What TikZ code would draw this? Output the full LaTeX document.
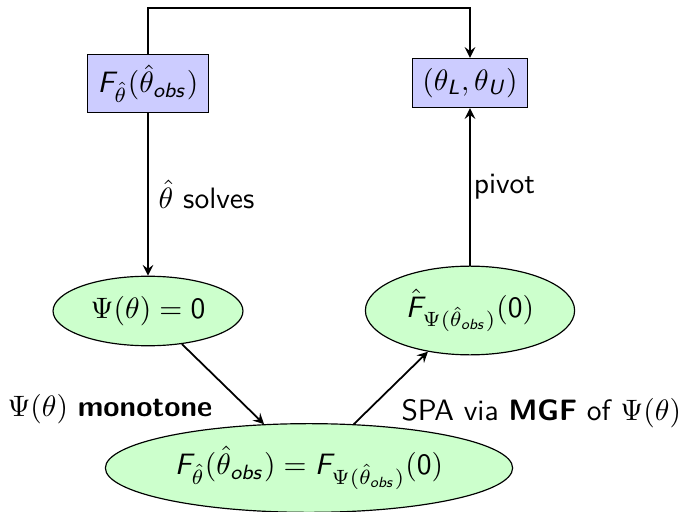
\documentclass[tikz,border=0pt]{standalone}
\usetikzlibrary{shapes.geometric,arrows}
\DeclareSymbolFont{sfletters}{OT1}{cmss}{m}{sl}
\DeclareSymbolFont{sfops}{OT1}{cmss}{m}{n}
\DeclareMathSymbol{F}{\mathalpha}{sfletters}{`F}
\DeclareMathSymbol{L}{\mathalpha}{sfletters}{`L}
\DeclareMathSymbol{U}{\mathalpha}{sfletters}{`U}
\DeclareMathSymbol{o}{\mathalpha}{sfletters}{`o}
\DeclareMathSymbol{b}{\mathalpha}{sfletters}{`b}
\DeclareMathSymbol{s}{\mathalpha}{sfletters}{`s}
\DeclareMathSymbol{0}{\mathalpha}{sfops}{`0}
\begin{document}
\begin{tikzpicture}[x=0.339pt,y=-0.339pt,>=stealth,
  every node/.style={font=\sffamily},
  boxnode/.style={draw, thin, fill=blue!20, rectangle},
  ellnode/.style={draw, thin, fill=green!20, ellipse},
  conn/.style={->, semithick}]
\useasboundingbox (0,0) rectangle (680,512);
\node[boxnode] (lb) at (148,83.5) {$F_{\hat\theta}(\hat\theta_{obs})$};
\node[boxnode] (rb) at (470,83) {$(\theta_L,\theta_U)$};
\node[ellnode] (le) at (148,311) {$\Psi(\theta)=0$};
\node[ellnode] (re) at (470,310.5) {$\hat F_{\Psi(\hat\theta_{obs})}(0)$};
\node[ellnode] (be) at (309,468) {$F_{\hat\theta}(\hat\theta_{obs}) = F_{\Psi(\hat\theta_{obs})}(0)$};
\coordinate (tl) at (148,8);
\coordinate (tr) at (470,8);
\draw[conn] (lb) -- (tl) -- (tr) -- (rb);
\draw[conn] (lb) -- node[right] {$\hat\theta$ solves} (le);
\draw[conn] (re) -- node[right, inner sep=1pt] {pivot} (rb);
\draw[conn] (le) -- node[below left] {$\Psi(\theta)$ \textbf{monotone}} (be);
\draw[conn] (be) -- node[below right] {SPA via \textbf{MGF} of $\Psi(\theta)$} (re);
\end{tikzpicture}
\end{document}
